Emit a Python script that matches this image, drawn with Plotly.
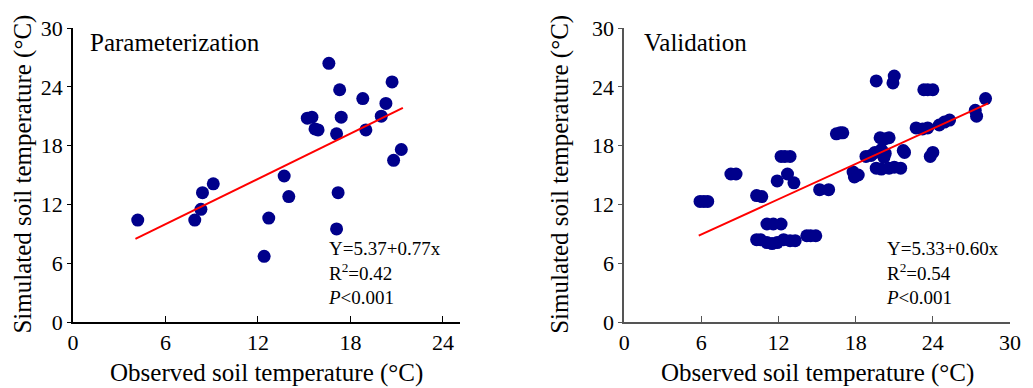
import plotly.graph_objects as go

# ---------------- data ----------------
param_obs = [4.2, 7.9, 8.3, 8.4, 9.1, 12.4, 12.7, 13.7, 14.0, 15.2, 15.5, 15.7, 15.9,
             16.6, 17.1, 17.3, 17.4, 17.2, 17.1, 18.8, 19.0, 20.0, 20.3, 20.7, 20.8, 21.3]
param_sim = [10.4, 10.4, 11.5, 13.2, 14.1, 6.7, 10.6, 14.9, 12.8, 20.8, 20.9, 19.7, 19.6,
             26.4, 19.2, 23.7, 20.9, 13.2, 9.5, 22.8, 19.6, 21.0, 22.3, 24.5, 16.5, 17.6]

valid_obs = [5.9, 6.2, 6.5, 8.3, 8.7, 10.3, 10.7, 10.3, 10.6, 11.1, 11.6, 12.2,
             11.1, 11.5, 11.9, 12.4, 12.9, 13.3, 11.9, 12.7, 13.2, 12.2, 12.5, 12.9,
             14.2, 14.5, 14.9, 15.2, 15.9, 16.5, 16.8, 17.0, 17.8, 17.9, 18.2,
             18.8, 19.2, 19.5, 19.6, 19.6, 20.0, 20.6, 21.0, 21.5, 19.9, 20.3, 20.6,
             20.0, 20.3, 20.2, 20.9, 21.0, 21.7, 21.8, 22.7, 23.2, 23.6, 23.3, 23.6, 24.0,
             23.8, 24.0, 24.5, 24.9, 25.3, 27.3, 27.4, 28.1]
valid_sim = [12.3, 12.3, 12.3, 15.1, 15.1, 12.9, 12.8, 8.4, 8.4, 10.0, 10.0, 10.0,
             8.1, 8.0, 8.1, 8.4, 8.3, 8.3, 14.4, 15.1, 14.2, 16.9, 16.9, 16.9,
             8.8, 8.8, 8.8, 13.5, 13.5, 19.2, 19.3, 19.3, 15.3, 14.8, 15.0,
             16.9, 17.0, 17.3, 24.6, 15.7, 15.6, 15.7, 15.8, 15.7, 18.8, 18.7, 18.8,
             17.6, 17.2, 16.8, 24.4, 25.1, 17.5, 17.3, 19.8, 19.7, 19.8, 23.7, 23.7, 23.7,
             16.9, 17.3, 20.1, 20.4, 20.6, 21.6, 21.0, 22.8]

param_fit_x = [4.05, 21.4]
param_coef = [5.37, 0.77]
valid_fit_x = [5.8, 28.3]
valid_coef = [5.33, 0.60]

tick_vals_y = [0, 6, 12, 18, 24, 30]
tick_vals_x_left = [0, 6, 12, 18, 24]
tick_vals_x_right = [0, 6, 12, 18, 24, 30]

param_label = "Parameterization"
valid_label = "Validation"
param_stats = "Y=5.37+0.77x<br>R<sup>2</sup>=0.42<br><i>P</i><0.001"
valid_stats = "Y=5.33+0.60x<br>R<sup>2</sup>=0.54<br><i>P</i><0.001"
x_title = "Observed soil temperature (°C)"
y_title = "Simulated soil temperature (°C)"

# ---------------- figure ----------------
FONT = "Liberation Serif, Times New Roman, serif"
DOT = "#00008B"

fig = go.Figure()

fig.add_trace(go.Scatter(x=param_obs, y=param_sim, mode="markers",
                         marker=dict(color=DOT, size=13), xaxis="x", yaxis="y",
                         showlegend=False))
fig.add_trace(go.Scatter(x=param_fit_x,
                         y=[param_coef[0] + param_coef[1] * v for v in param_fit_x],
                         mode="lines", line=dict(color="red", width=2),
                         xaxis="x", yaxis="y", showlegend=False))
fig.add_trace(go.Scatter(x=valid_obs, y=valid_sim, mode="markers",
                         marker=dict(color=DOT, size=13), xaxis="x2", yaxis="y2",
                         showlegend=False))
fig.add_trace(go.Scatter(x=valid_fit_x,
                         y=[valid_coef[0] + valid_coef[1] * v for v in valid_fit_x],
                         mode="lines", line=dict(color="red", width=2),
                         xaxis="x2", yaxis="y2", showlegend=False))

dom_left = [0.0, 0.4129]
dom_right = [0.5882, 1.0]

common_x = dict(showgrid=False, zeroline=False, showline=True, linewidth=1.5,
                ticks="inside", ticklen=6, tickwidth=1,
                tickfont=dict(family=FONT, size=22, color="black"))
common_y = dict(showgrid=False, zeroline=False, showline=True, linewidth=1.5,
                ticks="outside", ticklen=4, tickwidth=1, range=[0, 30],
                tickvals=tick_vals_y,
                tickfont=dict(family=FONT, size=22, color="black"))

fig.update_layout(
    width=1033, height=388,
    margin=dict(l=73, r=13, t=28, b=66),
    paper_bgcolor="white", plot_bgcolor="white",
    font=dict(family=FONT, color="black"),
    xaxis=dict(domain=dom_left, range=[0, 25.1], tickvals=tick_vals_x_left,
               linecolor="black", tickcolor="black", anchor="y", **common_x),
    yaxis=dict(domain=[0, 1], anchor="x", linecolor="black", tickcolor="black",
               **common_y),
    xaxis2=dict(domain=dom_right, range=[0, 30], tickvals=tick_vals_x_right,
                linecolor="#555555", tickcolor="#555555", anchor="y2", **common_x),
    yaxis2=dict(domain=[0, 1], anchor="x2", linecolor="#555555", tickcolor="#555555",
                **common_y),
)

ann = []
ann.append(dict(text=param_label, xref="paper", yref="paper", x=0.0158, y=0.949,
                xanchor="left", yanchor="middle", showarrow=False,
                font=dict(family=FONT, size=25, color="black")))
ann.append(dict(text=valid_label, xref="paper", yref="paper", x=0.607, y=0.952,
                xanchor="left", yanchor="middle", showarrow=False,
                font=dict(family=FONT, size=25, color="black")))
ann.append(dict(text=param_stats, xref="paper", yref="paper", x=0.270, y=0.167,
                xanchor="left", yanchor="middle", align="left", showarrow=False,
                font=dict(family=FONT, size=19, color="black")))
ann.append(dict(text=valid_stats, xref="paper", yref="paper", x=0.8656, y=0.167,
                xanchor="left", yanchor="middle", align="left", showarrow=False,
                font=dict(family=FONT, size=19, color="black")))
# axis titles
for cx in [(73 + 464) / 2, (630 + 1020) / 2]:
    ann.append(dict(text=x_title, xref="paper", yref="paper",
                    x=(cx - 73) / 947, y=(322 - 373) / 294,
                    xanchor="center", yanchor="middle", showarrow=False,
                    font=dict(family=FONT, size=25, color="black")))
for px in [22, 565]:
    ann.append(dict(text=y_title, xref="paper", yref="paper",
                    x=(px - 73) / 947, y=(322 - 174) / 294, textangle=-90,
                    xanchor="center", yanchor="middle", showarrow=False,
                    font=dict(family=FONT, size=25, color="black")))
fig.update_layout(annotations=ann)

fig.write_html("out.html")
